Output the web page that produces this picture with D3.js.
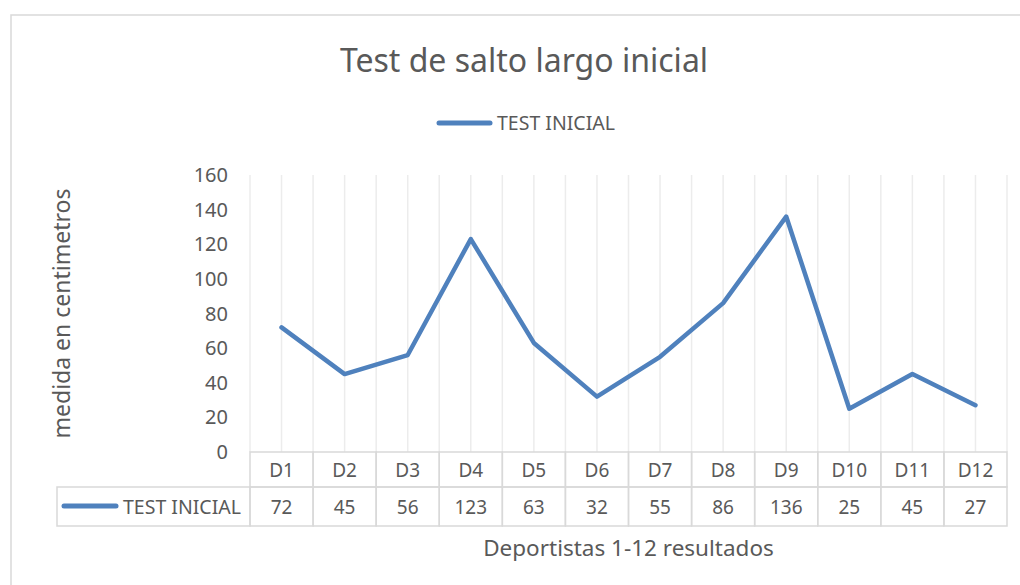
<!DOCTYPE html>
<html>
<head>
<meta charset="utf-8">
<script src="https://cdn.jsdelivr.net/npm/d3@7"></script>
<style>
  body { margin: 0; background: #fff; }
  text { font-family: "Noto Sans", "Open Sans", sans-serif; fill: #595959; }
</style>
</head>
<body>
<svg id="chart" width="1020" height="585"></svg>
<script>
// data
let categories = ["D1","D2","D3","D4","D5","D6","D7","D8","D9","D10","D11","D12"];
let testInicial = [72, 45, 56, 123, 63, 32, 55, 86, 136, 25, 45, 27];
let yTicks = [0, 20, 40, 60, 80, 100, 120, 140, 160];
let seriesName = "TEST INICIAL";

let lineColor = "#4f81bd";
let gridColor = "#ececec";
let borderColor = "#d9d9d9";

let svg = d3.select("#chart");

let plotLeft = 250, plotRight = 1007, plotTop = 175, plotBottom = 452;
let headerBottom = 487, tableBottom = 526, legendCellLeft = 57;

let x = d3.scaleBand()
  .domain(categories)
  .range([plotLeft, plotRight]);

let y = d3.scaleLinear()
  .domain([0, 160])
  .range([plotBottom, plotTop]);

// outer chart border (top + left only visible)
svg.append("path")
  .attr("d", "M11,585 L11,15 L1020,15")
  .attr("fill", "none")
  .attr("stroke", "#d9d9d9")
  .attr("stroke-width", 1.5);

// title
svg.append("text")
  .attr("x", 524)
  .attr("y", 72)
  .attr("text-anchor", "middle")
  .style("font-size", "32px")
  .text("Test de salto largo inicial");

// legend
svg.append("line")
  .attr("x1", 439).attr("x2", 490)
  .attr("y1", 123).attr("y2", 123)
  .attr("stroke", lineColor)
  .attr("stroke-width", 5)
  .attr("stroke-linecap", "round");
svg.append("text")
  .attr("x", 497)
  .attr("y", 130)
  .style("font-size", "19.5px")
  .text(seriesName);

// vertical gridlines at each category edge and center
let gridXs = [];
categories.forEach(c => {
  gridXs.push(x(c));
  gridXs.push(x(c) + x.bandwidth() / 2);
});
gridXs.push(plotRight);

svg.append("g")
  .selectAll("line")
  .data(gridXs)
  .enter().append("line")
    .attr("x1", d => d).attr("x2", d => d)
    .attr("y1", plotTop).attr("y2", plotBottom)
    .attr("stroke", gridColor)
    .attr("stroke-width", 1.5);

// y axis tick labels
svg.append("g")
  .selectAll("text")
  .data(yTicks)
  .enter().append("text")
    .attr("x", 228)
    .attr("y", d => y(d) + 7)
    .attr("text-anchor", "end")
    .style("font-size", "20px")
    .text(d => d);

// y axis title
svg.append("text")
  .attr("transform", "translate(70," + ((plotTop + plotBottom) / 2) + ") rotate(-90)")
  .attr("text-anchor", "middle")
  .style("font-size", "23px")
  .text("medida en centimetros");

// data table
let table = svg.append("g");

// header row cells + value row cells
categories.forEach((c, i) => {
  table.append("rect")
    .attr("x", x(c)).attr("y", plotBottom)
    .attr("width", x.bandwidth()).attr("height", headerBottom - plotBottom)
    .attr("fill", "none").attr("stroke", borderColor).attr("stroke-width", 1.5);
  table.append("rect")
    .attr("x", x(c)).attr("y", headerBottom)
    .attr("width", x.bandwidth()).attr("height", tableBottom - headerBottom)
    .attr("fill", "none").attr("stroke", borderColor).attr("stroke-width", 1.5);
  table.append("text")
    .attr("x", x(c) + x.bandwidth() / 2)
    .attr("y", 477)
    .attr("text-anchor", "middle")
    .style("font-size", "19px")
    .text(c);
  table.append("text")
    .attr("x", x(c) + x.bandwidth() / 2)
    .attr("y", 514)
    .attr("text-anchor", "middle")
    .style("font-size", "19px")
    .text(testInicial[i]);
});

// legend cell of table
table.append("rect")
  .attr("x", legendCellLeft).attr("y", headerBottom)
  .attr("width", plotLeft - legendCellLeft).attr("height", tableBottom - headerBottom)
  .attr("fill", "none").attr("stroke", borderColor).attr("stroke-width", 1.5);
table.append("line")
  .attr("x1", 64).attr("x2", 116)
  .attr("y1", 506).attr("y2", 506)
  .attr("stroke", lineColor)
  .attr("stroke-width", 5)
  .attr("stroke-linecap", "round");
table.append("text")
  .attr("x", 123)
  .attr("y", 514)
  .style("font-size", "19.5px")
  .text(seriesName);

// x axis title
svg.append("text")
  .attr("x", (plotLeft + plotRight) / 2)
  .attr("y", 556)
  .attr("text-anchor", "middle")
  .style("font-size", "22.5px")
  .text("Deportistas 1-12 resultados");

// the line
let line = d3.line()
  .x((d, i) => x(categories[i]) + x.bandwidth() / 2)
  .y(d => y(d));

svg.append("path")
  .datum(testInicial)
  .attr("d", line)
  .attr("fill", "none")
  .attr("stroke", lineColor)
  .attr("stroke-width", 4.5)
  .attr("stroke-linecap", "round")
  .attr("stroke-linejoin", "round");
</script>
</body>
</html>
